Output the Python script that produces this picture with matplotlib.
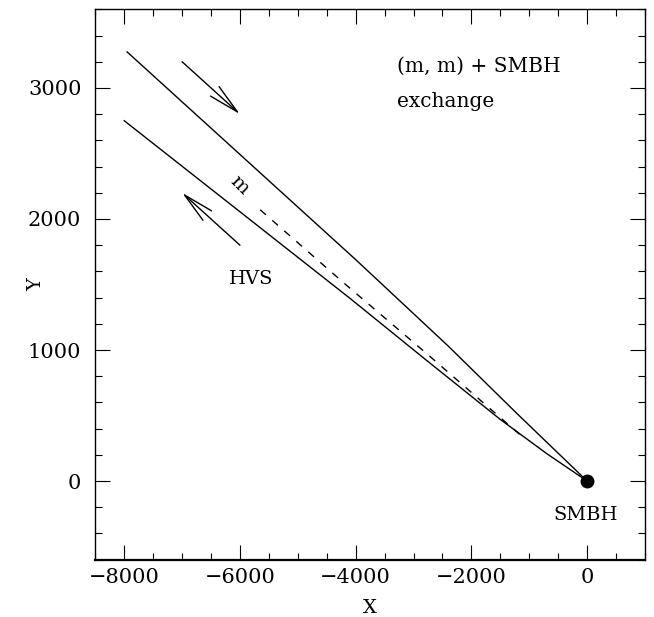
import matplotlib
matplotlib.use("Agg")
import matplotlib.pyplot as plt
import numpy as np

plt.rcParams['font.family'] = ['DejaVu Serif']

# incoming binary track (upper) and ejected star track (lower)
in_x = [-7950, -4000, -2400, -1200, 0]
in_y = [3275, 1690, 1030, 510, 0]
hvs_x = [-8000, -4100, -2800, -1500, -700, 0]
hvs_y = [2750, 1395, 930, 470, 210, 0]
# captured companion m (dashed)
m_x = [-5650, -4200, -2700, -1150]
m_y = [2070, 1510, 945, 350]

smbh_x, smbh_y = 0, 0

fig = plt.figure(figsize=(6.54, 6.17), dpi=100)
ax = fig.add_axes([0.1457, 0.0929, 0.8405, 0.892])

ax.plot(in_x, in_y, color='black', lw=1.0)
ax.plot(hvs_x, hvs_y, color='black', lw=1.0)
ax.plot(m_x, m_y, color='black', lw=1.0, linestyle=(0, (5.5, 6)))
ax.plot([smbh_x], [smbh_y], 'o', color='black', markersize=9)

arrow = dict(arrowstyle='->,head_length=2.2,head_width=0.46', lw=1.0,
             color='black', shrinkA=0, shrinkB=0, mutation_scale=10)
ax.annotate('', xy=(-6000, 2800), xytext=(-7000, 3200), arrowprops=arrow)
ax.annotate('', xy=(-7000, 2200), xytext=(-6000, 1800), arrowprops=arrow)

ax.text(-3290, 3127, '(m, m) + SMBH', fontsize=14.5, va='baseline', ha='left')
ax.text(-3290, 2855, 'exchange', fontsize=14.5, va='baseline', ha='left')
ax.text(-5800, 1505, 'HVS', fontsize=14, va='baseline', ha='center')
ax.text(-26, -297, 'SMBH', fontsize=14, va='baseline', ha='center')
ax.text(-6010, 2260, 'm', fontsize=14, va='center', ha='center', rotation=-45)

ax.set_xlim(-8500, 1000)
ax.set_ylim(-600, 3600)
ax.set_xticks(np.arange(-8000, 1, 2000))
ax.set_xticks(np.arange(-8500, 1001, 500), minor=True)
ax.set_yticks(np.arange(0, 3001, 1000))
ax.set_yticks(np.arange(-600, 3601, 200), minor=True)
ax.set_xticklabels(['\u22128000', '\u22126000', '\u22124000', '\u22122000', '0'])

ax.tick_params(which='both', direction='in', top=True, right=True,
               labelsize=15, width=0.8)
ax.tick_params(which='major', length=10.6)
ax.tick_params(which='minor', length=5.3)
ax.tick_params(axis='x', pad=6)
ax.tick_params(axis='y', pad=10)

for s in ['left', 'right', 'top']:
    ax.spines[s].set_linewidth(1.0)
ax.spines['bottom'].set_linewidth(1.6)

ax.set_xlabel('X', fontsize=14, labelpad=8.5)
ax.set_ylabel('Y', fontsize=14, labelpad=-12.5)

fig.savefig('out.png', dpi=100)
